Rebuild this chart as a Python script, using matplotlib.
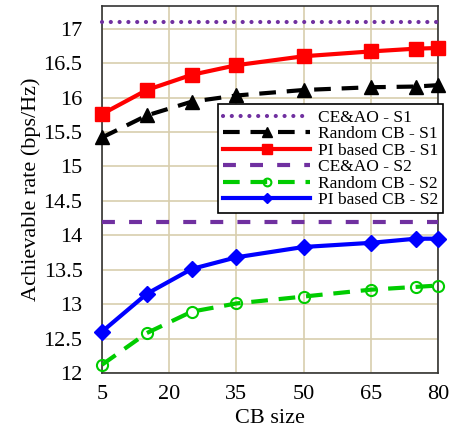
import matplotlib
matplotlib.use("Agg")
import matplotlib.pyplot as plt

# data
cb_size = [5, 15, 25, 35, 50, 65, 75, 80]
ceao_s1 = 17.1
ceao_s2 = 14.2
random_s1 = [15.42, 15.74, 15.94, 16.03, 16.11, 16.15, 16.16, 16.18]
pi_s1 = [15.76, 16.11, 16.33, 16.47, 16.60, 16.67, 16.71, 16.72]
random_s2 = [12.12, 12.58, 12.89, 13.01, 13.11, 13.21, 13.25, 13.27]
pi_s2 = [12.60, 13.15, 13.51, 13.68, 13.83, 13.89, 13.95, 13.95]
xticks = [5, 20, 35, 50, 65, 80]
yticks = [12, 12.5, 13, 13.5, 14, 14.5, 15, 15.5, 16, 16.5, 17]

plt.rcParams['font.family'] = ['Liberation Serif', 'DejaVu Serif']

fig = plt.figure(figsize=(4.51, 4.34), dpi=100)
ax = fig.add_axes([0.2262, 0.1406, 0.745, 0.8456])

lw = 3
purple = '#7030a0'
ax.axhline(ceao_s1, color=purple, linestyle=(0, (0.01, 2.1)), lw=lw,
           dash_capstyle='round', label='CE&AO - S1')
ax.plot(cb_size, random_s1, color='black', linestyle=(0, (4, 2.6)), lw=lw,
        marker='^', markersize=10, label='Random CB - S1')
ax.plot(cb_size, pi_s1, color='#ff0000', lw=lw, marker='s', markersize=10,
        label='PI based CB - S1')
ax.axhline(ceao_s2, color=purple, linestyle=(0, (3.1, 3.4)), lw=lw,
           label='CE&AO - S2')
ax.plot(cb_size, random_s2, color='#00cc00', linestyle=(0, (4, 2.6)), lw=lw,
        marker='o', markersize=8, markerfacecolor='none', markeredgewidth=1.5,
        label='Random CB - S2')
ax.plot(cb_size, pi_s2, color='#0000ff', lw=lw, marker='D', markersize=8,
        label='PI based CB - S2')

ax.set_xlim(5, 80)
ax.set_ylim(12, 17.33)
ax.set_xticks(xticks)
ax.set_yticks(yticks)
ax.set_yticklabels([f'{v:g}' for v in yticks])
ax.tick_params(axis='y', labelsize=16, length=0, pad=14)
ax.tick_params(axis='x', labelsize=16, length=0, pad=9)
ax.grid(color='#d8ceae', lw=1.2)
ax.set_axisbelow(True)
for s in ax.spines.values():
    s.set_color('#333333')
    s.set_linewidth(1.2)
    s.set_zorder(1)

ax.set_xlabel('CB size', fontsize=16, labelpad=3)
ax.set_ylabel('Achievable rate (bps/Hz)', fontsize=16, labelpad=2)

leg = ax.legend(loc='upper right', bbox_to_anchor=(0.983, 0.7597),
                bbox_transform=fig.transFigure, fontsize=12.5, markerscale=0.7,
                handlelength=5.0, frameon=True, fancybox=False, framealpha=1,
                edgecolor='black', borderpad=0.3, labelspacing=0.02,
                handletextpad=0.45, borderaxespad=0)
leg.get_frame().set_linewidth(1.2)
for t in ax.lines:
    t.set_clip_on(False)

fig.savefig('out.png', dpi=100)
